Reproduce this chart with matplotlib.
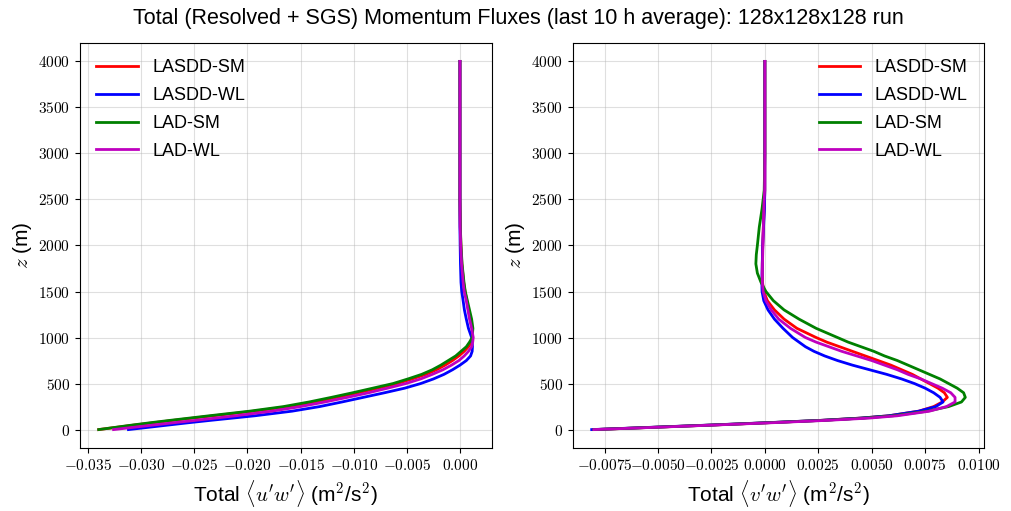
import numpy as np
import matplotlib
matplotlib.use("Agg")
import matplotlib.pyplot as plt
from matplotlib.ticker import FuncFormatter

plt.rcParams['font.family'] = ['Liberation Sans', 'DejaVu Sans']
plt.rcParams['mathtext.fontset'] = 'cm'

# Alturas (m) e fluxos
z_esq = [0, 25, 50, 75, 100, 150, 200, 250, 300, 350, 400, 450, 500, 550, 600,
         650, 700, 750, 800, 850, 900, 950, 1000, 1100, 1200, 1300, 1400, 1500, 1600,
         1800, 2000, 2200, 2500, 3000, 3500, 4000]

uw_lasdd_sm = [-0.0340, -0.0323, -0.0306, -0.0288, -0.0270, -0.0232, -0.0194, -0.0161,
               -0.0137, -0.0116, -0.0096, -0.0077, -0.0059, -0.0045, -0.0032, -0.0022,
               -0.0014, -0.0007, -0.0001, 0.0004, 0.0008, 0.0011, 0.0012, 0.00115, 0.00098,
               0.0008, 0.00065, 0.00048, 0.00035, 0.00018, 0.00009, 0.00003, 0.0, 0.0, 0.0, 0.0]
uw_lasdd_wl = [-0.0312, -0.0293, -0.0274, -0.0255, -0.0235, -0.0193, -0.0158, -0.0132,
               -0.0111, -0.0091, -0.0071, -0.0052, -0.0037, -0.0025, -0.0015, -0.0007,
               0.0000, 0.0006, 0.0010, 0.00115, 0.00118, 0.00115, 0.0011, 0.0008, 0.0006,
               0.00042, 0.0003, 0.00017, 0.0001, 0.00005, 0.00002, 0.0, 0.0, 0.0, 0.0, 0.0]
uw_lad_sm = [-0.0340, -0.0324, -0.0308, -0.0291, -0.0273, -0.0236, -0.0198, -0.0166,
             -0.0142, -0.0121, -0.0101, -0.0082, -0.0063, -0.0049, -0.0036, -0.0026,
             -0.0018, -0.0011, -0.0004, 0.0001, 0.0006, 0.0009, 0.00115, 0.00122, 0.0011,
             0.0009, 0.0007, 0.0005, 0.00038, 0.0002, 0.0001, 0.00004, 0.0, 0.0, 0.0, 0.0]
uw_lad_wl = [-0.0326, -0.0307, -0.0288, -0.0269, -0.0249, -0.0211, -0.0177, -0.0150,
             -0.0127, -0.0106, -0.0086, -0.0068, -0.0051, -0.0037, -0.0026, -0.0016,
             -0.0008, -0.0001, 0.0004, 0.0008, 0.0011, 0.0012, 0.00125, 0.0011, 0.0009,
             0.00075, 0.0006, 0.0004, 0.0003, 0.00015, 0.00007, 0.00002, 0.0, 0.0, 0.0, 0.0]

z_dir = [0, 25, 50, 75, 100, 125, 150, 200, 250, 300, 350, 400, 450, 500, 550, 600,
         650, 700, 750, 800, 850, 900, 950, 1000, 1100, 1200, 1300, 1400, 1500, 1600,
         1700, 1800, 1900, 2000, 2200, 2400, 2600, 3000, 3500, 4000]

vw_lasdd_sm = [-0.0080, -0.0052, -0.0024, 0.0002, 0.0026, 0.0045, 0.0058, 0.0072, 0.0079,
               0.0083, 0.00854, 0.0084, 0.0081, 0.0077, 0.0073, 0.0069, 0.0064, 0.0059,
               0.0053, 0.0047, 0.0041, 0.0035, 0.0029, 0.0024, 0.0015, 0.0009, 0.00045,
               0.00012, -0.00005, -0.00011, -0.00012, -0.00012, -0.00011, -0.0001,
               -0.00007, -0.00003, 0.0, 0.0, 0.0, 0.0]
vw_lasdd_wl = [-0.0081, -0.0053, -0.0025, 0.0001, 0.0026, 0.0045, 0.0058, 0.0072, 0.0080,
               0.00834, 0.0082, 0.0079, 0.0075, 0.0070, 0.0064, 0.0057, 0.0049, 0.0041,
               0.0034, 0.0028, 0.0023, 0.0019, 0.0016, 0.0013, 0.00085, 0.00045, 0.00015,
               -0.00005, -0.00013, -0.00014, -0.00013, -0.00012, -0.00011, -0.0001,
               -0.00006, -0.00002, 0.0, 0.0, 0.0, 0.0]
vw_lad_sm = [-0.0080, -0.0052, -0.0024, 0.0002, 0.0027, 0.0046, 0.0060, 0.0076, 0.0086,
             0.0092, 0.00938, 0.0093, 0.0090, 0.0086, 0.0082, 0.0077, 0.0072, 0.0067,
             0.0062, 0.0056, 0.0051, 0.0045, 0.0039, 0.0034, 0.0024, 0.0016, 0.0009,
             0.0004, 0.00005, -0.00018, -0.00035, -0.00042, -0.0004, -0.00035,
             -0.00026, -0.00013, -0.00003, 0.0, 0.0, 0.0]
vw_lad_wl = [-0.0080, -0.0051, -0.0023, 0.0004, 0.0029, 0.0049, 0.0062, 0.0077, 0.0085,
             0.0089, 0.0089, 0.0087, 0.0083, 0.0078, 0.0073, 0.0067, 0.0062, 0.0056,
             0.0050, 0.0043, 0.0036, 0.0030, 0.0024, 0.0019, 0.0012, 0.00065, 0.0003,
             0.00005, -0.00008, -0.00012, -0.00012, -0.00011, -0.0001, -0.00009,
             -0.00007, -0.00005, -0.00001, 0.0, 0.0, 0.0]

rotulos = ['LASDD-SM', 'LASDD-WL', 'LAD-SM', 'LAD-WL']
cores = ['r', 'b', 'g', 'm']


def fmt(casas):
    def f(v, pos):
        if abs(v) < 1e-12:
            v = 0.0
        return f"${v:.{casas}f}$"
    return FuncFormatter(f)


fig = plt.figure(figsize=(10.11, 5.11), dpi=100)
ax1 = fig.add_axes([0.0791, 0.1233, 0.4075, 0.7926])
ax2 = fig.add_axes([0.5668, 0.1233, 0.4065, 0.7926])

for serie, cor, rot in zip([uw_lasdd_sm, uw_lasdd_wl, uw_lad_sm, uw_lad_wl], cores, rotulos):
    ax1.plot(serie, z_esq, color=cor, lw=2, label=rot)
for serie, cor, rot in zip([vw_lasdd_sm, vw_lasdd_wl, vw_lad_sm, vw_lad_wl], cores, rotulos):
    ax2.plot(serie, z_dir, color=cor, lw=2, label=rot)

ax1.set_xlabel(r"Total $\langle u'w' \rangle$ (m$^2$/s$^2$)", fontsize=15)
ax2.set_xlabel(r"Total $\langle v'w' \rangle$ (m$^2$/s$^2$)", fontsize=15)
for ax, casas in [(ax1, 3), (ax2, 4)]:
    ax.set_ylabel(r"$z$ (m)", fontsize=15, labelpad=3)
    ax.xaxis.set_major_formatter(fmt(casas))
    ax.yaxis.set_major_formatter(fmt(0))
    ax.tick_params(labelsize=11)
    ax.grid(True, alpha=0.4)

ax1.legend(loc='upper left', frameon=False, fontsize=13, labelspacing=0.6, handlelength=2.3)
ax2.legend(loc='upper right', frameon=False, fontsize=13, labelspacing=0.6, handlelength=2.3)

fig.suptitle("Total (Resolved + SGS) Momentum Fluxes (last 10 h average): 128x128x128 run",
             fontsize=15.5, x=0.513, y=0.985)

fig.savefig("out.png", dpi=100)
